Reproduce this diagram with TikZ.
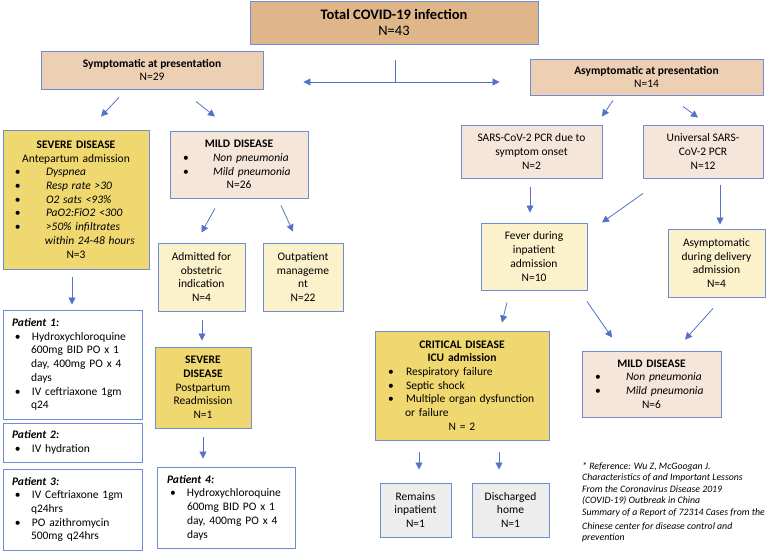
\documentclass[tikz,border=0pt]{standalone}
\usepackage{fontspec}
\setmainfont{Carlito}
\usetikzlibrary{arrows.meta,calc}
\definecolor{boxblue}{RGB}{112,140,212}
\definecolor{arrowblue}{RGB}{84,114,200}
\definecolor{tanfill}{RGB}{223,182,138}
\definecolor{peachfill}{RGB}{237,207,180}
\definecolor{palefill}{RGB}{246,230,217}
\definecolor{goldfill}{RGB}{240,216,112}
\definecolor{creamfill}{RGB}{251,241,203}
\definecolor{greyfill}{RGB}{237,237,237}
\newcommand{\itm}[2][18pt]{\makebox[#1][l]{\textbullet}#2}
\newcommand{\midline}[1]{\makebox[\linewidth]{#1}}

\begin{document}
\begin{tikzpicture}[
        x=1pt, y=-1pt,
        box/.style={draw=boxblue, line width=0.9pt, inner sep=3pt, align=center,
            font=\fontsize{11.5}{13.7}\selectfont},
        listbox/.style={box, align=left},
        arr/.style={arrowblue, line width=0.8pt, -{Triangle[length=7pt,width=7pt]}},
        refnote/.style={font=\fontsize{9.8}{11.6}\selectfont\itshape, align=left, inner sep=0pt}
    ]
        \useasboundingbox (0,0) rectangle (772,551);

        % Top level
        \node[box, fill=tanfill, minimum width=288pt, minimum height=43pt,
            font=\fontsize{14.5}{15.5}\selectfont] (total) at (394,22.5)
            {\textbf{Total COVID-19 infection}\\N=43};
        \node[box, fill=peachfill, minimum width=222pt, minimum height=38pt] (sympt) at (152,70)
            {\textbf{Symptomatic at presentation}\\N=29};
        \node[box, fill=peachfill, minimum width=233pt, minimum height=36pt] (asympt) at (646.5,77)
            {\textbf{Asymptomatic at presentation}\\N=14};

        % Symptomatic branch
        \node[listbox, fill=goldfill, minimum width=146pt, minimum height=139pt, text width=140pt] (severe) at (76,199.5)
            {\midline{\textbf{SEVERE DISEASE}}\\
             \midline{Antepartum admission}\\
             \hspace*{9pt}\itm[31pt]{\textit{Dyspnea}}\\
             \hspace*{9pt}\itm[31pt]{\textit{Resp rate >30}}\\
             \hspace*{9pt}\itm[31pt]{\textit{O2 sats <93\%}}\\
             \hspace*{9pt}\itm[31pt]{\textit{PaO2:FiO2 <300}}\\
             \hspace*{9pt}\itm[31pt]{\textit{>50\% infiltrates}}\\
             \hspace*{39pt}\textit{within 24-48 hours}\\
             \midline{N=3}};
        \node[listbox, fill=palefill, minimum width=138pt, minimum height=67pt, text width=132pt] (mild) at (239,164.5)
            {\midline{\textbf{MILD DISEASE}}\\
             \hspace*{10pt}\itm[30pt]{\textit{Non pneumonia}}\\
             \hspace*{10pt}\itm[30pt]{\textit{Mild pneumonia}}\\
             \midline{N=26}};
        \node[box, fill=creamfill, minimum width=87pt, minimum height=68pt] (admitted) at (201.5,277)
            {Admitted for\\obstetric\\indication\\N=4};
        \node[box, fill=creamfill, minimum width=80pt, minimum height=68pt] (outpatient) at (303,277)
            {Outpatient\\manageme\\nt\\N=22};
        \node[box, fill=goldfill, minimum width=96pt, minimum height=81pt] (severe2) at (203,387.5)
            {\textbf{SEVERE}\\\textbf{DISEASE}\\Postpartum\\Readmission\\N=1};

        % Patients
        \node[listbox, fill=white, minimum width=139pt, minimum height=109pt, text width=133pt] (patient1) at (72.5,364.5)
            {\hspace*{6pt}\textbf{\textit{Patient 1:}}\\
             \hspace*{9pt}\itm[17pt]{Hydroxychloroquine}\\
             \hspace*{25pt}600mg BID PO x 1\\
             \hspace*{25pt}day, 400mg PO x 4\\
             \hspace*{25pt}days\\
             \hspace*{9pt}\itm[17pt]{IV ceftriaxone 1gm}\\
             \hspace*{25pt}q24};
        \node[listbox, fill=white, minimum width=139pt, minimum height=39pt, text width=133pt] (patient2) at (72.5,442.5)
            {\hspace*{6pt}\textbf{\textit{Patient 2:}}\\
             \hspace*{9pt}\itm[17pt]{IV hydration}};
        \node[listbox, fill=white, minimum width=139pt, minimum height=81pt, text width=133pt] (patient3) at (72.5,509.5)
            {\hspace*{6pt}\textbf{\textit{Patient 3:}}\\
             \hspace*{9pt}\itm[17pt]{IV Ceftriaxone 1gm}\\
             \hspace*{25pt}q24hrs\\
             \hspace*{9pt}\itm[17pt]{PO azithromycin}\\
             \hspace*{25pt}500mg q24hrs};
        \node[listbox, fill=white, minimum width=138pt, minimum height=81pt, text width=132pt] (patient4) at (226,507.5)
            {\hspace*{7pt}\textbf{\textit{Patient 4:}}\\
             \hspace*{10pt}\itm[17pt]{Hydroxychloroquine}\\
             \hspace*{27pt}600mg BID PO x 1\\
             \hspace*{27pt}day, 400mg PO x 4\\
             \hspace*{27pt}days};

        % Asymptomatic branch
        \node[box, fill=palefill, minimum width=141pt, minimum height=53pt] (sars) at (531.5,151.5)
            {SARS-CoV-2 PCR due to\\symptom onset\\N=2};
        \node[box, fill=palefill, minimum width=120pt, minimum height=53pt] (universal) at (703,151.5)
            {Universal SARS-\\CoV-2 PCR\\N=12};
        \node[box, fill=creamfill, minimum width=106pt, minimum height=67pt] (fever) at (534,256.5)
            {Fever during\\inpatient\\admission\\N=10};
        \node[box, fill=creamfill, minimum width=97pt, minimum height=68pt] (asymdeliv) at (716.5,263)
            {Asymptomatic\\during delivery\\admission\\N=4};
        \node[listbox, fill=goldfill, minimum width=174pt, minimum height=109pt, text width=168pt] (critical) at (462,385.5)
            {\midline{\textbf{CRITICAL DISEASE}}\\
             \midline{\textbf{ICU admission}}\\
             \hspace*{10pt}\itm{Respiratory failure}\\
             \hspace*{10pt}\itm{Septic shock}\\
             \hspace*{10pt}\itm{Multiple organ dysfunction}\\
             \hspace*{27pt}or failure\\
             \midline{N = 2}};
        \node[listbox, fill=palefill, minimum width=139pt, minimum height=66pt, text width=133pt] (mild2) at (651.5,384)
            {\midline{\textbf{MILD DISEASE}}\\
             \hspace*{10pt}\itm[31pt]{\textit{Non pneumonia}}\\
             \hspace*{10pt}\itm[31pt]{\textit{Mild pneumonia}}\\
             \midline{N=6}};
        \node[box, fill=greyfill, minimum width=71pt, minimum height=54pt] (remains) at (415.5,510)
            {Remains\\inpatient\\N=1};
        \node[box, fill=greyfill, minimum width=77pt, minimum height=54pt] (discharged) at (510.5,510)
            {Discharged\\home\\N=1};

        % Reference
        \node[refnote, anchor=north west] (reference) at (582,462)
            {* Reference: Wu Z, McGoogan J.\\
             Characteristics of and Important Lessons\\
             From the Coronavirus Disease 2019\\
             (COVID-19) Outbreak in China\\
             Summary of a Report of 72314 Cases from the\\[2pt]
             Chinese center for disease control and\\
             prevention};

        % Split arrow
        \coordinate (split) at (395,82);
        \draw[arr, -] ([shift={(1,16)}]total.south) -- (split);
        \draw[arr] (split) -- ($(sympt.east |- split)+(40,0)$);
        \draw[arr] (split) -- ($(asympt.west |- split)+(-30,0)$);

        % Arrows
        \draw[arr] ([shift={(-33,8)}]sympt.south) -- ([shift={(25,-13)}]severe.north);
        \draw[arr] ([shift={(44,12)}]sympt.south) -- ([shift={(-24,-14)}]mild.north);
        \draw[arr] ([shift={(-24,10)}]mild.south) -- ([shift={(0,-10)}]admitted.north);
        \draw[arr] ([shift={(42,7)}]mild.south) -- ([shift={(-10,-11)}]outpatient.north);
        \draw[arr] ([shift={(-4,8)}]severe.south) -- ([shift={(-0.5,-5)}]patient1.north);
        \draw[arr] ([shift={(0.5,9)}]admitted.south) -- ([shift={(-1,-6)}]severe2.north);
        \draw[arr] ([shift={(0,9)}]severe2.south) -- ([shift={(-23,-8)}]patient4.north);
        \draw[arr] ([shift={(-33.5,5)}]asympt.south) -- ([shift={(70.5,-8)}]sars.north);
        \draw[arr] ([shift={(36.5,11)}]asympt.south) -- ([shift={(-5,-7)}]universal.north);
        \draw[arr] ([shift={(-1.5,9)}]sars.south) -- ([shift={(-4,-10)}]fever.north);
        \draw[arr] ([shift={(-60,15)}]universal.south) -- ([shift={(68,0)}]fever.north);
        \draw[arr] ([shift={(17,7)}]universal.south) -- ([shift={(3.5,-4)}]asymdeliv.north);
        \draw[arr] ([shift={(-27,12)}]fever.south) -- ([shift={(40,-8)}]critical.north);
        \draw[arr] ([shift={(53,11)}]fever.south) -- ([shift={(-39.5,-13)}]mild2.north);
        \draw[arr] ([shift={(-3.5,11)}]asymdeliv.south) -- ([shift={(33.5,-11)}]mild2.north);
        \draw[arr] ([shift={(-43,12)}]critical.south) -- ([shift={(3.5,-13)}]remains.north);
        \draw[arr] ([shift={(37,12)}]critical.south) -- ([shift={(-11.5,-13)}]discharged.north);
    \end{tikzpicture}
\end{document}
